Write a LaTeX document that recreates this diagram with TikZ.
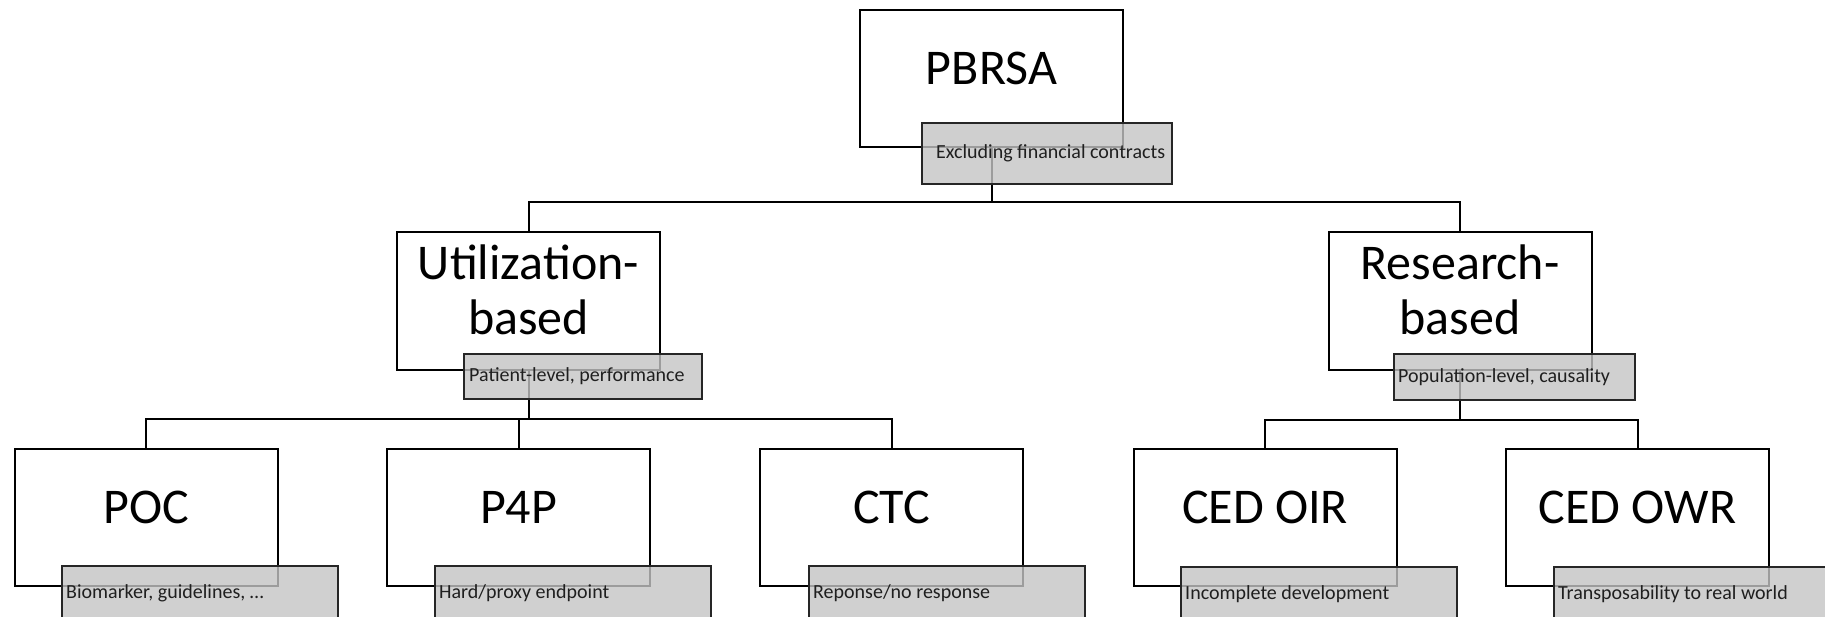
\documentclass[tikz,border=0pt]{standalone}
\usepackage{fontspec}
\setmainfont{Carlito}
\begin{document}
\begin{tikzpicture}[x=1pt,y=-1pt,
  box/.style={draw=black, line width=2pt, fill=white, minimum width=263pt,
    minimum height=137pt, inner sep=0pt, font=\fontsize{50}{55}\selectfont,
    text height=32pt, text depth=19pt},
  twoline/.style={text height=30pt, text depth=72pt},
  tag/.style={draw=black!85, line width=2pt, fill=black!23, fill opacity=0.8,
    anchor=north west, inner sep=0pt, minimum width=#1},
  tagtext/.style={anchor=west, inner sep=0pt, text=black!88,
    font=\fontsize{20}{24}\selectfont},
  link/.style={draw=black, line width=2pt}]
\useasboundingbox (0,0) rectangle (1825,617);
\clip (0,0) rectangle (1825,617);

% main boxes
\node[box] (pbrsa) at (991.5,78.5) {PBRSA};
\node[box,twoline] (util) at (528.5,301)
  {\begin{tabular}[t]{@{}c@{}}Utilization-\\based\end{tabular}};
\node[box,twoline] (res) at (1460,301)
  {\begin{tabular}[t]{@{}c@{}}Research-\\based\end{tabular}};
\node[box] (poc) at (146,517) {POC};
\node[box] (pfp) at (518.5,517) {P4P};
\node[box] (ctc) at (891.5,517) {CTC};
\node[box] (oir) at (1265,517) {CED OIR};
\node[box] (owr) at (1637.5,517) {CED OWR};

% tree connectors
\draw[link] (pbrsa.south) -- ++(0,54) -| (util.north);
\draw[link] (pbrsa.south) -- ++(0,54) -| (res.north);
\draw[link] (util.south) -- ++(0,48) -| (poc.north);
\draw[link] (util.south) -- ++(0,48) -| (pfp.north);
\draw[link] (util.south) -- ++(0,48) -| (ctc.north);
\draw[link] (res.south) -- ++(0,49) -| (oir.north);
\draw[link] (res.south) -- ++(0,49) -| (owr.north);

% translucent annotation tags
\node[tag=250pt, minimum height=61pt] (pbrsa-t) at (921,122) {};
\node[tag=238pt, minimum height=45pt] (util-t) at (463,353) {};
\node[tag=241pt, minimum height=46pt] (res-t) at (1393,353) {};
\node[tag=276pt, minimum height=54pt] (poc-t) at (61,565) {};
\node[tag=276pt, minimum height=54pt] (pfp-t) at (434,565) {};
\node[tag=276pt, minimum height=54pt] (ctc-t) at (808,565) {};
\node[tag=276pt, minimum height=54pt] (oir-t) at (1180,566) {};
\node[tag=276pt, minimum height=54pt] (owr-t) at (1553,566) {};

\node[tagtext, xshift=15pt] (pbrsa-l) at (pbrsa-t.west) {Excluding financial contracts};
\node[tagtext, xshift=6pt] (util-l) at (util-t.west) {Patient-level, performance};
\node[tagtext, xshift=5pt] (res-l) at (res-t.west) {Population-level, causality};
\node[tagtext, xshift=5pt] (poc-l) at (poc-t.west) {Biomarker, guidelines, …};
\node[tagtext, xshift=5pt] (pfp-l) at (pfp-t.west) {Hard/proxy endpoint};
\node[tagtext, xshift=5pt] (ctc-l) at (ctc-t.west) {Reponse/no response};
\node[tagtext, xshift=5pt] (oir-l) at (oir-t.west) {Incomplete development};
\node[tagtext, xshift=5pt] (owr-l) at (owr-t.west) {Transposability to real world};
\end{tikzpicture}
\end{document}
